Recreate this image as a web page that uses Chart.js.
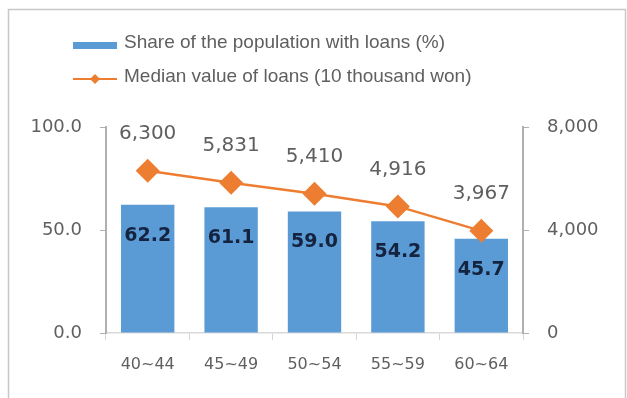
<!DOCTYPE html>
<html>
<head>
<meta charset="utf-8">
<script src="https://cdn.jsdelivr.net/npm/chart.js@4.4.0/dist/chart.umd.min.js"></script>
<style>
  html, body { margin: 0; padding: 0; background: #fff; }
  #wrap { width: 627px; height: 398px; }
</style>
</head>
<body>
<div id="wrap"><canvas id="chart" width="627" height="398"></canvas></div>
<script>
// age groups and the two series
const categories = ['40~44', '45~49', '50~54', '55~59', '60~64'];
const shareWithLoans = [62.2, 61.1, 59.0, 54.2, 45.7];
const medianLoanValue = [6300, 5831, 5410, 4916, 3967];
const shareTicks = [0, 50, 100];
const valueTicks = [0, 4000, 8000];

const BLUE = '#5b9bd5';
const ORANGE = '#ed7d31';
const TEXT = '#5f5f5f';
const AXIS = '#b0b0b0';
const TICK_FONT = 'DejaVu Sans, Verdana, sans-serif';

// outer frame, white background
const framePlugin = {
  id: 'frame',
  beforeDraw(chart) {
    const ctx = chart.ctx;
    ctx.save();
    ctx.fillStyle = '#fff';
    ctx.fillRect(0, 0, chart.width, chart.height);
    ctx.strokeStyle = '#c8c8c8';
    ctx.lineWidth = 1.5;
    ctx.strokeRect(8.5, 9.5, chart.width - 10, chart.height + 20);
    ctx.restore();
  }
};

// two-row legend at top left
const legendPlugin = {
  id: 'stackedLegend',
  afterDraw(chart) {
    const ctx = chart.ctx;
    const items = chart.data.datasets;
    ctx.save();
    ctx.font = '19px "Liberation Sans", Arial, sans-serif';
    ctx.textBaseline = 'middle';
    ctx.textAlign = 'left';
    // bar swatch
    ctx.fillStyle = BLUE;
    ctx.fillRect(73, 42, 44, 7);
    ctx.fillStyle = TEXT;
    ctx.fillText(items[0].label, 124, 43);
    // line swatch with diamond
    const ly = 79;
    ctx.strokeStyle = ORANGE;
    ctx.lineWidth = 2;
    ctx.beginPath();
    ctx.moveTo(73, ly);
    ctx.lineTo(117, ly);
    ctx.stroke();
    ctx.fillStyle = ORANGE;
    ctx.beginPath();
    ctx.moveTo(95 - 5, ly);
    ctx.lineTo(95, ly - 5);
    ctx.lineTo(95 + 5, ly);
    ctx.lineTo(95, ly + 5);
    ctx.closePath();
    ctx.fill();
    ctx.fillStyle = TEXT;
    ctx.fillText(items[1].label, 124, 77);
    ctx.restore();
  }
};

// value labels: inside the bar top, above the line points
const valueLabels = {
  id: 'valueLabels',
  afterDatasetsDraw(chart) {
    const ctx = chart.ctx;
    ctx.save();
    ctx.textAlign = 'center';
    ctx.textBaseline = 'middle';

    const bars = chart.getDatasetMeta(0);
    ctx.font = 'bold 19px ' + TICK_FONT;
    ctx.fillStyle = '#14233f';
    bars.data.forEach((el, i) => {
      ctx.fillText(shareWithLoans[i].toFixed(1), el.x, el.y + 31);
    });

    const line = chart.getDatasetMeta(1);
    ctx.font = '20px ' + TICK_FONT;
    ctx.fillStyle = TEXT;
    line.data.forEach((el, i) => {
      ctx.fillText(medianLoanValue[i].toLocaleString('en-US'), el.x, el.y - 37);
    });
    ctx.restore();
  }
};

new Chart(document.getElementById('chart'), {
  data: {
    labels: categories,
    datasets: [
      {
        type: 'bar',
        label: 'Share of the population with loans (%)',
        data: shareWithLoans,
        yAxisID: 'y',
        backgroundColor: BLUE,
        categoryPercentage: 1,
        barPercentage: 0.64,
        order: 2
      },
      {
        type: 'line',
        label: 'Median value of loans (10 thousand won)',
        data: medianLoanValue,
        yAxisID: 'y1',
        borderColor: ORANGE,
        borderWidth: 2.5,
        pointStyle: 'rectRot',
        pointRadius: 12,
        pointBackgroundColor: ORANGE,
        pointBorderWidth: 0,
        tension: 0,
        order: 1
      }
    ]
  },
  options: {
    responsive: false,
    animation: false,
    layout: { padding: { top: 127, left: 0, right: 0, bottom: 0 } },
    plugins: {
      legend: { display: false },
      tooltip: { enabled: false }
    },
    scales: {
      x: {
        grid: { display: true, drawOnChartArea: false, offset: true, tickLength: 7, color: '#d4d4d4' },
        border: { color: '#d9d9d9', width: 1.5 },
        ticks: { color: TEXT, font: { family: TICK_FONT, size: 16 }, padding: 15 },
        afterFit(scale) { scale.height = 65; }
      },
      y: {
        position: 'left',
        min: 0,
        max: 100,
        afterBuildTicks(scale) { scale.ticks = shareTicks.map(v => ({ value: v })); },
        grid: { display: true, drawOnChartArea: false, tickLength: 6, color: AXIS },
        border: { color: AXIS, width: 2 },
        ticks: {
          color: TEXT,
          font: { family: TICK_FONT, size: 18 },
          padding: 18,
          callback: v => Number(v).toFixed(1)
        },
        afterFit(scale) { scale.width = 106; }
      },
      y1: {
        position: 'right',
        min: 0,
        max: 8000,
        afterBuildTicks(scale) { scale.ticks = valueTicks.map(v => ({ value: v })); },
        grid: { display: true, drawOnChartArea: false, tickLength: 6, color: AXIS },
        border: { color: AXIS, width: 2 },
        ticks: {
          color: TEXT,
          font: { family: TICK_FONT, size: 18 },
          padding: 18,
          callback: v => Number(v).toLocaleString('en-US')
        },
        afterFit(scale) { scale.width = 104; }
      }
    }
  },
  plugins: [framePlugin, legendPlugin, valueLabels]
});
</script>
</body>
</html>
